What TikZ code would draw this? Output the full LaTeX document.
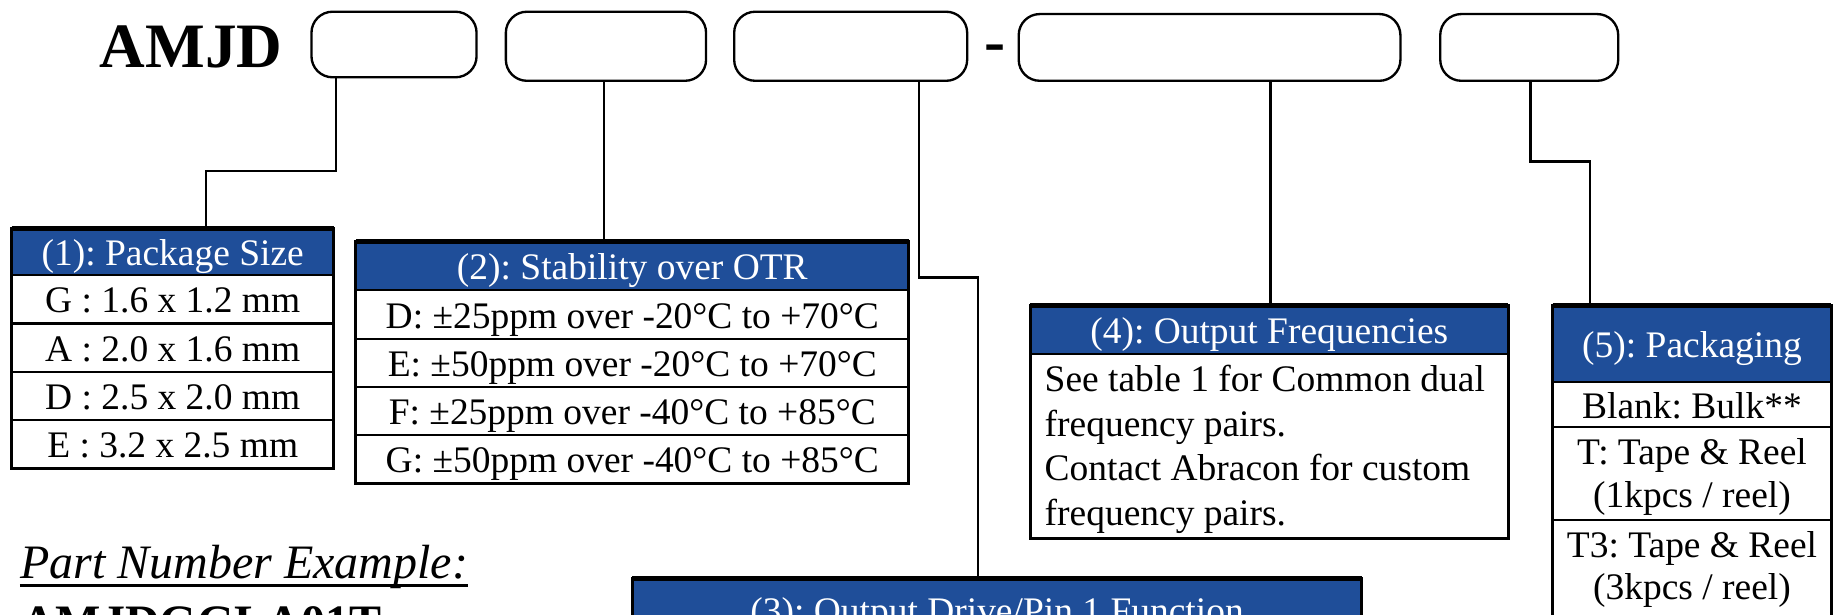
\documentclass[tikz,border=0pt]{standalone}
\usepackage{fontspec}
\setmainfont{Liberation Serif}
\usetikzlibrary{positioning}
\definecolor{hdrblue}{RGB}{31,78,153}

\tikzset{
  field/.style={draw,line width=2pt,rounded corners=18pt,inner sep=0pt,outer sep=0pt,anchor=north west},
  tcell/.style={draw=black,fill=white,line width=1.8pt,inner sep=0pt,outer sep=0pt,anchor=north west,
    align=center,font=\fontsize{32}{36}\selectfont},
  thead/.style={tcell,fill=hdrblue,text=white},
  oneline/.style={text height=24pt,text depth=1pt},
  tframe/.style={draw=black,line width=2.6pt},
  topbar/.style={draw=black,line width=4pt},
  link/.style={draw=black,line width=2pt}
}

\begin{document}
\frenchspacing
\begin{tikzpicture}[x=1pt,y=-1pt]
\useasboundingbox (0,0) rectangle (1568,525);
\clip (0,0) rectangle (1568,525);

% part number fields
\node[font=\bfseries\fontsize{54}{60}\selectfont,anchor=base west,inner sep=0pt] (amjd) at (85,58) {AMJD};
\foreach \n/\x/\y/\w/\h in {f1/266/10/141/56,f2/432/10/171/59,f3/627/10/199/59,f4/870/12/326/57,f5/1230/12/152/57}
	\node[field,minimum width=\w pt,minimum height=\h pt] (\n) at (\x,\y) {};
\node[font=\bfseries\fontsize{54}{60}\selectfont,anchor=base,inner sep=0pt] (dash) at (850,53) {-};

% (1)
\node[thead,oneline,minimum width=275pt,minimum height=40pt] (t1) at (10,195) {(1): Package Size};
\foreach \t [count=\i] in {G : 1.6 x 1.2 mm,A : 2.0 x 1.6 mm,D : 2.5 x 2.0 mm,E : 3.2 x 2.5 mm}
	\node[tcell,oneline,minimum width=275pt,minimum height=41.25pt] (t1r\i) at (10,{235+41.25*(\i-1)}) {\t};
\draw[tframe] (t1.north west) rectangle (t1r4.south east);
\draw[topbar] (t1.north west) -- (t1.north east);

% (2)
\node[thead,oneline,minimum width=472pt,minimum height=42pt] (t2) at (304,206) {(2): Stability over OTR};
\foreach \t [count=\i] in {D: ±25ppm over -20°C to +70°C,E: ±50ppm over -20°C to +70°C,F: ±25ppm over -40°C to +85°C,G: ±50ppm over -40°C to +85°C}
	\node[tcell,oneline,minimum width=472pt,minimum height=41.25pt] (t2r\i) at (304,{248+41.25*(\i-1)}) {\t};
\draw[tframe] (t2.north west) rectangle (t2r4.south east);
\draw[topbar] (t2.north west) -- (t2.north east);

% (3)
\node[thead,minimum width=623pt,minimum height=62pt] (t3) at (540,494) {(3): Output Drive/Pin 1 Function};
\draw[tframe] (t3.north west) rectangle (t3.south east);
\draw[topbar] (t3.north west) -- (t3.north east);

% (4)
\node[thead,oneline,minimum width=408pt,minimum height=41pt] (t4) at (880,261) {(4): Output Frequencies};
\node[tcell,minimum width=408pt,minimum height=158pt] (t4r1) at (880,302) {};
\node[anchor=north west,inner sep=0pt,align=left,font=\fontsize{32}{38}\selectfont] (t4txt) at ([xshift=12pt,yshift=-4.5pt]t4r1.north west)
	{\rule{0pt}{28pt}See table 1 for Common dual\\frequency pairs.\\Contact Abracon for custom\\frequency pairs.};
\draw[tframe] (t4.north west) rectangle (t4r1.south east);
\draw[topbar] (t4.north west) -- (t4.north east);

% (5)
\node[thead,oneline,minimum width=238pt,minimum height=65pt] (t5) at (1326,261) {(5): Packaging};
\node[tcell,oneline,minimum width=238pt,minimum height=39pt] (t5r1) at (1326,326) {Blank: Bulk**};
\node[tcell,minimum width=238pt,minimum height=79pt] (t5r2) at (1326,365) {\rule{0pt}{28pt}T: Tape \& Reel\\(1kpcs / reel)};
\node[tcell,minimum width=238pt,minimum height=85pt] (t5r3) at (1326,444) {T3: Tape \& Reel\\(3kpcs / reel)};
\draw[tframe] (t5.north west) rectangle (t5r3.south east);
\draw[topbar] (t5.north west) -- (t5.north east);

% connectors
\draw[link] ([xshift=21pt]f1.south west) -- ++(0,80) -| ([xshift=166pt]t1.north west);
\draw[link] ([xshift=84pt]f2.south west) -- ([xshift=212pt]t2.north west);
\draw[link] ([xshift=158pt]f3.south west) -- ++(0,168) -| ([xshift=295pt]t3.north west);
\draw[link] ([xshift=215pt]f4.south west) -- ([xshift=205pt]t4.north west);
\draw[link] ([xshift=77pt]f5.south west) -- ++(0,69) -| ([xshift=32pt]t5.north west);

% example
\node[font=\itshape\fontsize{41}{48}\selectfont,anchor=base west,inner sep=0pt] (ex) at (17,494) {Part Number Example:};
\draw[line width=1.8pt] ([yshift=-6pt]ex.base west) -- ([yshift=-6pt]ex.base east);
\node[font=\bfseries\fontsize{41}{48}\selectfont,anchor=base west,inner sep=0pt] (pnex) at (18,545) {AMJDGGLA01T};

\end{tikzpicture}
\end{document}
